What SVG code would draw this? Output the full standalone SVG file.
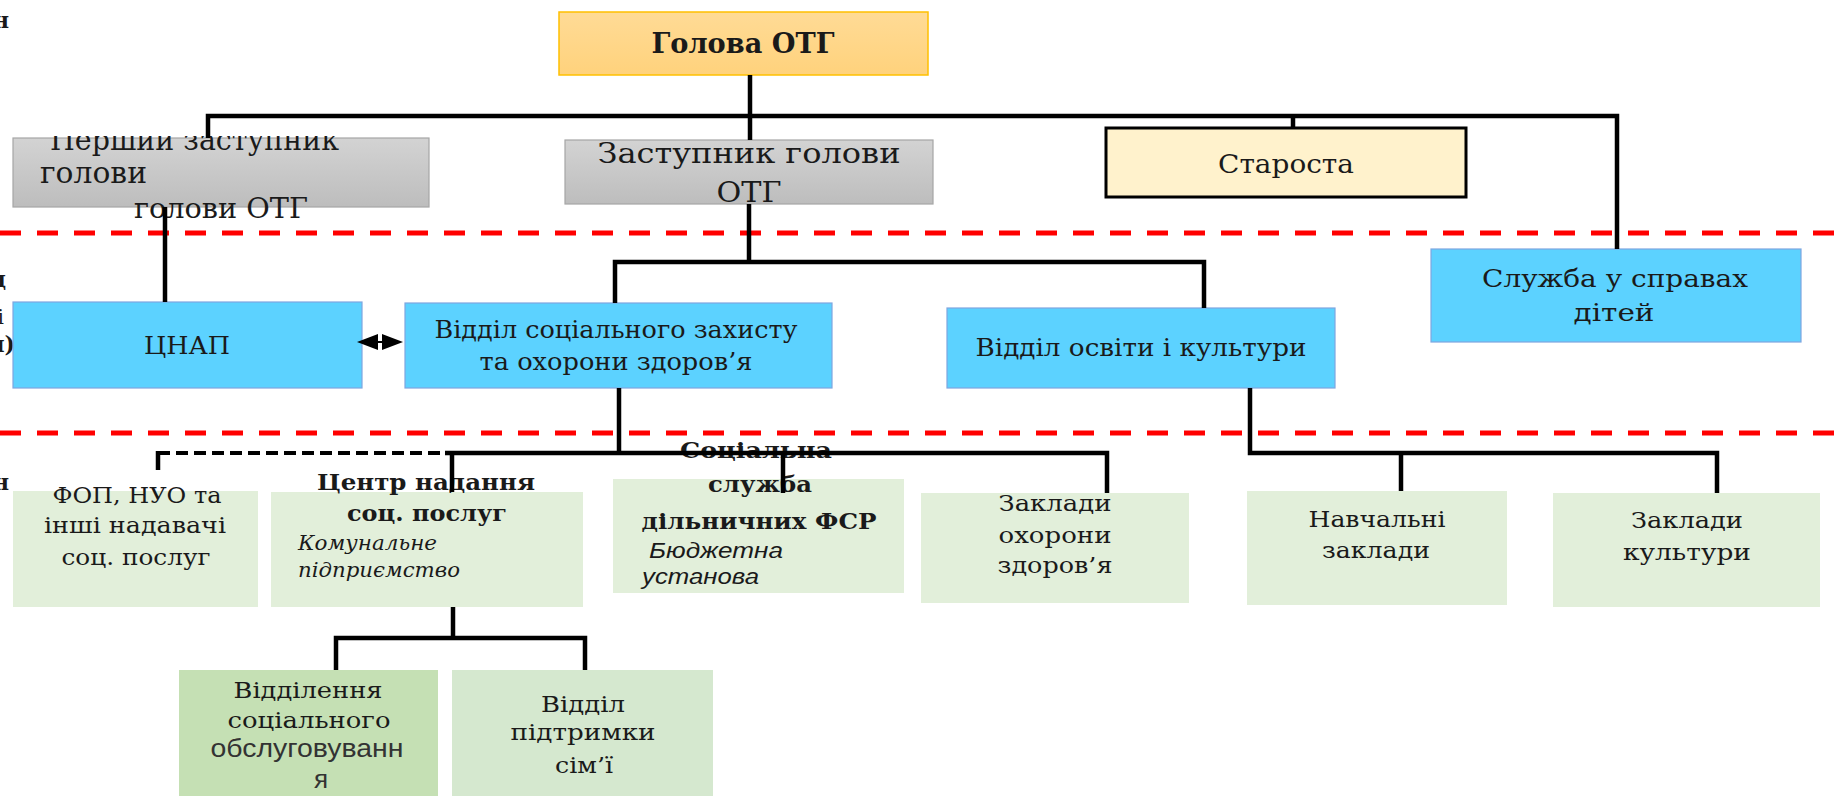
<svg xmlns="http://www.w3.org/2000/svg" width="1843" height="796" viewBox="0 0 1843 796">
<style>
.t{font-family:"DejaVu Serif","Liberation Serif",serif;fill:#1a1a1a;}
.b{font-weight:bold;}
.i{font-style:italic;}
.s{font-family:"Liberation Sans",Arial,sans-serif;}
.c{text-anchor:middle;}
.e{text-anchor:end;}
.ln{fill:none;stroke:#000;stroke-width:4.5;}
.dsh{fill:none;stroke:#000;stroke-width:4;stroke-dasharray:12 6;}
.red{fill:none;stroke:#FF0000;stroke-width:5;stroke-dasharray:21 16;}
.gray{fill:url(#gGray);stroke:#A6A6A6;stroke-width:1.2;}
.blue{fill:#5CD2FF;stroke:#7EA6E0;stroke-width:1.2;}
.lg{fill:#E2EFDA;}
</style>
<defs>
<linearGradient id="gGray" x1="0" y1="0" x2="0" y2="1"><stop offset="0" stop-color="#D3D3D3"/><stop offset="1" stop-color="#BDBDBD"/></linearGradient>
<linearGradient id="gGold" x1="0" y1="0" x2="0" y2="1"><stop offset="0" stop-color="#FFDB96"/><stop offset="1" stop-color="#FFD27C"/></linearGradient>
<clipPath id="clipTop"><rect x="0" y="136" width="600" height="200"/></clipPath>
<marker id="arr" viewBox="0 0 21 16" refX="0" refY="8" markerWidth="21" markerHeight="16" markerUnits="userSpaceOnUse" orient="auto-start-reverse"><path d="M0,0 L21,8 L0,16 z" fill="#000"/></marker>
</defs>

<g id="separators">
<line class="red" x1="0" y1="233" x2="1843" y2="233"/>
<line class="red" x1="0" y1="433" x2="1843" y2="433"/>
</g>

<g id="left-labels">
<text class="t b e" x="9" y="28" font-size="22">н</text>
<text class="t b e" x="6" y="287" font-size="22">ц</text>
<text class="t e" x="4" y="324" font-size="20" fill="#555">і</text>
<text class="t b e" x="15" y="352" font-size="22">н)</text>
<text class="t b e" x="9" y="490" font-size="22">н</text>
</g>

<g id="holova">
<rect x="559" y="12" width="369" height="63" fill="url(#gGold)" stroke="#FFC000" stroke-width="1.5"/>
<text class="t b c" x="743" y="53" font-size="27" textLength="183" lengthAdjust="spacingAndGlyphs">Голова ОТГ</text>
</g>

<g id="pershyi-zastupnyk">
<rect class="gray" x="13" y="138" width="416" height="69"/>
<text class="t" x="50" y="150" font-size="29" textLength="289" lengthAdjust="spacingAndGlyphs" clip-path="url(#clipTop)">Перший заступник</text>
<text class="t" x="40" y="183" font-size="29" textLength="107" lengthAdjust="spacingAndGlyphs">голови</text>
<text class="t" x="134" y="218" font-size="28" textLength="174" lengthAdjust="spacingAndGlyphs">голови ОТГ</text>
</g>

<g id="zastupnyk">
<rect class="gray" x="565" y="140" width="368" height="64"/>
<text class="t c" x="749" y="163" font-size="28" textLength="303" lengthAdjust="spacingAndGlyphs">Заступник голови</text>
<text class="t c" x="749" y="202" font-size="28" textLength="65" lengthAdjust="spacingAndGlyphs">ОТГ</text>
</g>

<g id="starosta">
<rect x="1106" y="128" width="360" height="69" fill="#FFF2CC" stroke="#000" stroke-width="3"/>
<text class="t c" x="1286" y="173" font-size="26" textLength="136" lengthAdjust="spacingAndGlyphs">Староста</text>
</g>

<g id="sluzhba-ditei">
<rect class="blue" x="1431" y="249" width="370" height="93"/>
<text class="t c" x="1615" y="287" font-size="25" textLength="266" lengthAdjust="spacingAndGlyphs">Служба у справах</text>
<text class="t c" x="1614" y="321" font-size="25" textLength="81" lengthAdjust="spacingAndGlyphs">дітей</text>
</g>

<g id="cnap">
<rect class="blue" x="13" y="302" width="349" height="86"/>
<text class="t c" x="187" y="354" font-size="25" textLength="86" lengthAdjust="spacingAndGlyphs">ЦНАП</text>
</g>

<g id="viddil-soc">
<rect class="blue" x="405" y="303" width="427" height="85"/>
<text class="t c" x="616" y="338" font-size="24" textLength="363" lengthAdjust="spacingAndGlyphs">Відділ соціального захисту</text>
<text class="t c" x="616" y="370" font-size="24" textLength="273" lengthAdjust="spacingAndGlyphs">та охорони здоров’я</text>
</g>

<g id="viddil-osvity">
<rect class="blue" x="947" y="308" width="388" height="80"/>
<text class="t c" x="1141" y="356" font-size="24" textLength="331" lengthAdjust="spacingAndGlyphs">Відділ освіти і культури</text>
</g>

<g id="fop">
<rect class="lg" x="13" y="491" width="245" height="116"/>
<text class="t c" x="137" y="503" font-size="23" textLength="169" lengthAdjust="spacingAndGlyphs">ФОП, НУО та</text>
<text class="t c" x="135" y="533" font-size="23" textLength="182" lengthAdjust="spacingAndGlyphs">інші надавачі</text>
<text class="t c" x="136" y="565" font-size="23" textLength="149" lengthAdjust="spacingAndGlyphs">соц. послуг</text>
</g>

<g id="centr">
<rect class="lg" x="271" y="492" width="312" height="115"/>
<text class="t b c" x="426" y="490" font-size="23" textLength="218" lengthAdjust="spacingAndGlyphs">Центр надання</text>
<text class="t b c" x="427" y="521" font-size="23" textLength="160" lengthAdjust="spacingAndGlyphs">соц. послуг</text>
<text class="t i" x="298" y="550" font-size="20" textLength="139" lengthAdjust="spacingAndGlyphs">Комунальне</text>
<text class="t i" x="298" y="577" font-size="20" textLength="162" lengthAdjust="spacingAndGlyphs">підприємство</text>
</g>

<g id="soc-sluzhba">
<rect class="lg" x="613" y="479" width="291" height="114"/>
<text class="t b c" x="756" y="458" font-size="23" textLength="152" lengthAdjust="spacingAndGlyphs">Соціальна</text>
<text class="t b c" x="760" y="492" font-size="23" textLength="104" lengthAdjust="spacingAndGlyphs">служба</text>
<text class="t b c" x="759" y="529" font-size="23" textLength="235" lengthAdjust="spacingAndGlyphs">дільничних ФСР</text>
<text class="s i" x="649" y="558" font-size="22" textLength="134" lengthAdjust="spacingAndGlyphs" fill="#1a1a1a">Бюджетна</text>
<text class="s i" x="642" y="584" font-size="22" textLength="117" lengthAdjust="spacingAndGlyphs" fill="#1a1a1a">установа</text>
</g>

<g id="zaklady-ohorony">
<rect class="lg" x="921" y="493" width="268" height="110"/>
<text class="t c" x="1055" y="511" font-size="23" textLength="113" lengthAdjust="spacingAndGlyphs">Заклади</text>
<text class="t c" x="1055" y="543" font-size="23" textLength="113" lengthAdjust="spacingAndGlyphs">охорони</text>
<text class="t c" x="1055" y="573" font-size="23" textLength="115" lengthAdjust="spacingAndGlyphs">здоров’я</text>
</g>

<g id="navchalni">
<rect class="lg" x="1247" y="491" width="260" height="114"/>
<text class="t c" x="1377" y="527" font-size="23" textLength="137" lengthAdjust="spacingAndGlyphs">Навчальні</text>
<text class="t c" x="1376" y="558" font-size="23" textLength="108" lengthAdjust="spacingAndGlyphs">заклади</text>
</g>

<g id="zaklady-kultury">
<rect class="lg" x="1553" y="493" width="267" height="114"/>
<text class="t c" x="1687" y="528" font-size="23" textLength="112" lengthAdjust="spacingAndGlyphs">Заклади</text>
<text class="t c" x="1687" y="560" font-size="23" textLength="128" lengthAdjust="spacingAndGlyphs">культури</text>
</g>

<g id="viddilennia">
<rect x="179" y="670" width="259" height="130" fill="#C5E0B4"/>
<text class="t c" x="308" y="698" font-size="23" textLength="149" lengthAdjust="spacingAndGlyphs" fill="#333">Відділення</text>
<text class="t c" x="309" y="728" font-size="23" textLength="163" lengthAdjust="spacingAndGlyphs" fill="#333">соціального</text>
<text class="s c" x="307" y="757" font-size="26" textLength="193" lengthAdjust="spacingAndGlyphs" fill="#333">обслуговуванн</text>
<text class="s c" x="321" y="788" font-size="26" fill="#333">я</text>
</g>

<g id="viddil-simi">
<rect x="452" y="670" width="261" height="130" fill="#D5E8CF"/>
<text class="t c" x="583" y="712" font-size="23" textLength="84" lengthAdjust="spacingAndGlyphs" fill="#333">Відділ</text>
<text class="t c" x="583" y="740" font-size="23" textLength="145" lengthAdjust="spacingAndGlyphs" fill="#333">підтримки</text>
<text class="t c" x="584" y="773" font-size="23" textLength="58" lengthAdjust="spacingAndGlyphs" fill="#333">сім’ї</text>
</g>

<g id="connectors">
<path class="ln" d="M750,75 V140"/>
<path class="ln" d="M208,138 V116 H1617 V249"/>
<path class="ln" d="M1293,116 V128"/>
<path class="ln" d="M165,207 V302"/>
<path class="ln" d="M749,204 V262"/>
<path class="ln" d="M615,303 V262 H1204 V308"/>
<path class="ln" d="M619,388 V453"/>
<path class="ln" d="M445,453 H1107 V493"/>
<path class="ln" d="M452,453 V492"/>
<path class="ln" d="M783,453 V493"/>
<path class="dsh" d="M158,453 H445"/>
<path class="ln" d="M158,451 V470"/>
<path class="ln" d="M1250,388 V453 H1717 V493"/>
<path class="ln" d="M1401,453 V491"/>
<path class="ln" d="M453,607 V638"/>
<path class="ln" d="M336,670 V638 H585 V670"/>
<path d="M378,342 H382" stroke="#000" stroke-width="2" marker-start="url(#arr)" marker-end="url(#arr)"/>
</g>
</svg>
